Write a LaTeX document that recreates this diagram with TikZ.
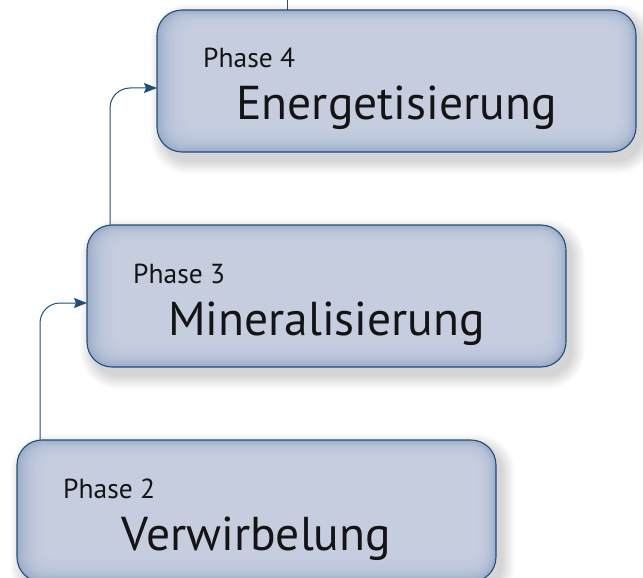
\documentclass[tikz,border=0pt]{standalone}
\usepackage{fontspec}
\setmainfont{PT Sans}
\usetikzlibrary{arrows.meta}
\definecolor{boxline}{HTML}{1F4E79}
\definecolor{boxdark}{HTML}{9AACC9}
\definecolor{boxlight}{HTML}{CDD4E5}
\definecolor{arrowc}{HTML}{1F4E79}
\definecolor{txt}{HTML}{141414}
\tikzset{
  phasebox/.style={draw=boxline, line width=1.1pt, fill=boxdark, rounded corners=25pt,
    minimum width=479pt, minimum height=142pt, inner sep=0pt, outer sep=0pt},
  phaselbl/.style={anchor=base west, inner sep=0pt, text=txt, font=\fontsize{27.5}{30}\selectfont},
  titlelbl/.style={anchor=base, inner sep=0pt, text=txt, font=\fontsize{47.5}{55}\selectfont},
  conn/.style={draw=arrowc, line width=1pt, rounded corners=20pt,
    -{Stealth[length=13pt,width=10pt,inset=2pt]}},
  plainconn/.style={draw=arrowc, line width=1pt}
}
\newcommand{\mkbox}[5]{%
  % #1 name, #2 center x, #3 center y, #4 phase, #5 title
  \foreach \s in {0,...,13}{
    \fill[black, opacity=0.012, rounded corners={25pt+\s pt}]
      ({#2-239.5+6-\s},{#3-71+7-\s}) rectangle ({#2+239.5+6+\s},{#3+71+9+\s});
  }
  \node[phasebox] (#1) at (#2,#3) {};
  \foreach \d in {1.5,3,...,27}{
    \fill[boxlight, opacity=0.13, rounded corners={25pt-\d pt*0.5}]
      ([shift={({\d*1.1},{\d*0.6})}]#1.north west) rectangle ([shift={({-\d*0.7},{-\d*0.9})}]#1.south east);
  }
  \node[phaselbl] (#1p) at ([shift={(46,58)}]#1.north west) {#4};
  \node[titlelbl] (#1t) at ([shift={(0,110)}]#1.north) {#5};
}
\begin{document}
\begin{tikzpicture}[x=1pt,y=-1pt]
\useasboundingbox (0,0) rectangle (643,578);
\clip (0,0) rectangle (643,578);
\mkbox{b4}{396.5}{81}{Phase 4}{Energetisierung}
\mkbox{b3}{326.5}{296}{Phase 3}{Mineralisierung}
\mkbox{b2}{256.5}{511}{Phase 2}{Verwirbelung}
\coordinate (topin) at (287,-2);
\draw[plainconn] (topin) -- (topin |- b4.north);
\draw[conn] ([xshift=23pt]b3.north west) |- ([yshift=-7pt]b4.west);
\draw[conn] ([xshift=23pt]b2.north west) |- ([yshift=-7pt]b3.west);
\end{tikzpicture}
\end{document}
